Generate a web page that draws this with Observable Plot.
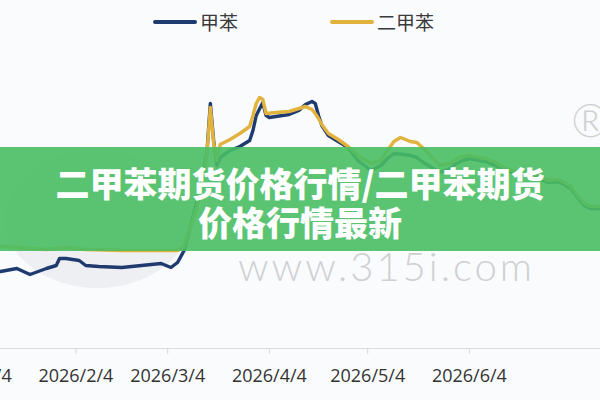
<!DOCTYPE html>
<html>
<head>
<meta charset="utf-8">
<script src="https://cdn.jsdelivr.net/npm/d3@7"></script>
<script src="https://cdn.jsdelivr.net/npm/@observablehq/plot@0.6"></script>
<style>
html,body{margin:0;padding:0;background:#fafbfc;width:600px;height:400px;overflow:hidden;font-family:"Noto Sans CJK SC","Noto Sans",sans-serif;}
#wrap{position:relative;width:600px;height:400px;overflow:hidden;}
#legend{position:relative;height:44px;z-index:2;}
.lg{position:absolute;top:8px;display:flex;align-items:center;font-size:19px;color:#3a3a3a;line-height:28px;}
.sw{width:44px;height:4px;border-radius:2px;margin-right:3px;}
#chart{position:relative;z-index:1;}
#chart svg{background:transparent !important;}
.wm{position:absolute;z-index:0;color:#cfd0d3;font-family:Lato,"Open Sans",sans-serif;font-weight:300;white-space:nowrap;}
#blob{position:absolute;z-index:0;left:5px;top:150px;width:185px;height:138px;border-radius:50%;background:#eeeff2;}
#banner{position:absolute;z-index:3;left:0;top:147px;width:600px;height:104px;box-sizing:border-box;padding-top:16px;background:rgba(72,190,100,0.9);color:#fff;font-weight:900;font-size:34px;line-height:39px;text-align:center;font-family:"Noto Sans CJK SC",sans-serif;}
</style>
</head>
<body>
<div id="wrap">
  <div id="blob"></div>
  <div class="wm" style="left:238px;top:252px;font-size:40px;line-height:28px;letter-spacing:3px;">www.315i.com</div>
  <div class="wm" style="left:571px;top:92px;font-size:46px;">®</div>
  <div id="legend"></div>
  <div id="chart"></div>
  <div id="banner">二甲苯期货价格行情/二甲苯期货<br>价格行情最新</div>
</div>
<script>
// Series names and colours
const seriesNames = ["甲苯", "二甲苯"];
const seriesColors = ["#1f3a6f", "#e1b23e"];

// 甲苯 (toluene)
const tolueneDates = ["2026-01-12","2026-01-17","2026-01-21","2026-01-26","2026-01-29","2026-01-30","2026-02-01","2026-02-05","2026-02-07","2026-02-11","2026-02-18","2026-02-24","2026-03-02","2026-03-05","2026-03-07","2026-03-09","2026-03-13","2026-03-15","2026-03-16","2026-03-17","2026-03-18","2026-03-19","2026-03-20","2026-03-23","2026-03-26","2026-03-29","2026-03-30","2026-03-31","2026-04-02","2026-04-03","2026-04-04","2026-04-06","2026-04-10","2026-04-13","2026-04-15","2026-04-17","2026-04-18","2026-04-19","2026-04-20","2026-04-22","2026-04-25","2026-04-28","2026-05-01","2026-05-05","2026-05-08","2026-05-10","2026-05-12","2026-05-15","2026-05-17","2026-05-19","2026-05-21","2026-05-24","2026-05-26","2026-05-29","2026-05-31","2026-06-02","2026-06-04","2026-06-07","2026-06-09","2026-06-12","2026-06-15","2026-06-18","2026-06-22","2026-06-25","2026-06-28","2026-07-01","2026-07-03","2026-07-05","2026-07-07","2026-07-09","2026-07-11","2026-07-14"];
const tolueneValues = [6290,6320,6260,6320,6350,6420,6420,6400,6350,6340,6330,6350,6370,6330,6380,6500,7000,7300,7500,7970,7600,7350,7430,7500,7540,7600,7700,7850,7980,7850,7830,7840,7860,7900,7960,7990,7970,7850,7750,7650,7590,7530,7400,7300,7350,7420,7470,7460,7450,7430,7380,7320,7280,7320,7370,7400,7420,7400,7390,7350,7300,7270,7280,7220,7180,7190,7160,7120,7030,6950,6920,6920];

// 二甲苯 (xylene)
const xyleneDates = ["2026-01-12","2026-01-17","2026-01-21","2026-01-26","2026-02-01","2026-02-07","2026-02-18","2026-03-02","2026-03-07","2026-03-09","2026-03-13","2026-03-15","2026-03-16","2026-03-17","2026-03-18","2026-03-19","2026-03-20","2026-03-23","2026-03-26","2026-03-29","2026-03-30","2026-03-31","2026-04-01","2026-04-02","2026-04-03","2026-04-06","2026-04-10","2026-04-13","2026-04-15","2026-04-17","2026-04-18","2026-04-19","2026-04-20","2026-04-22","2026-04-25","2026-04-28","2026-05-01","2026-05-05","2026-05-08","2026-05-10","2026-05-12","2026-05-14","2026-05-17","2026-05-19","2026-05-21","2026-05-24","2026-05-26","2026-05-29","2026-05-31","2026-06-02","2026-06-04","2026-06-07","2026-06-09","2026-06-12","2026-06-15","2026-06-18","2026-06-22","2026-06-25","2026-06-28","2026-07-01","2026-07-03","2026-07-05","2026-07-07","2026-07-09","2026-07-11","2026-07-14"];
const xyleneValues = [6540,6530,6520,6510,6530,6510,6500,6500,6500,6540,6950,7250,7480,7930,7580,7400,7560,7610,7670,7740,7850,7970,8030,8010,7870,7880,7890,7920,7940,7910,7870,7820,7760,7670,7610,7540,7450,7370,7400,7500,7590,7630,7590,7580,7520,7420,7350,7370,7420,7440,7450,7430,7420,7380,7320,7290,7300,7250,7200,7210,7180,7140,7050,6970,6940,6940];

// Axis
const tickDates = ["2026-01-04","2026-02-04","2026-03-04","2026-04-04","2026-05-04","2026-06-04"];
const xDomain = ["2026-01-12","2026-07-14"];
const yDomain = [5520, 8560];

const parse = d3.utcParse("%Y-%m-%d");
const toluene = tolueneDates.map((d, i) => ({date: parse(d), value: tolueneValues[i], series: seriesNames[0]}));
const xylene = xyleneDates.map((d, i) => ({date: parse(d), value: xyleneValues[i], series: seriesNames[1]}));
const fmt = d => `${d.getUTCFullYear()}/${d.getUTCMonth() + 1}/${d.getUTCDate()}`;

// Legend (HTML, above the chart)
const legendPos = [153, 330];
const legend = document.getElementById("legend");
seriesNames.forEach((name, i) => {
  const item = document.createElement("div");
  item.className = "lg";
  item.style.left = legendPos[i] + "px";
  item.innerHTML = `<span class="sw" style="background:${seriesColors[i]}"></span><span>${name}</span>`;
  legend.appendChild(item);
});

const chart = Plot.plot({
  width: 600,
  height: 356,
  marginLeft: 0,
  marginRight: 0,
  marginTop: 0,
  marginBottom: 52,
  style: {background: "transparent", fontFamily: "'Open Sans', sans-serif", overflow: "visible"},
  x: {type: "utc", domain: xDomain.map(parse)},
  y: {domain: yDomain, axis: null},
  marks: [
    Plot.ruleY([yDomain[0]], {stroke: "#dcdde0", strokeWidth: 1}),
    Plot.axisX(tickDates.map(parse), {
      tickFormat: fmt, tickSize: 6, tickPadding: 15, fontSize: 18,
      stroke: "#d5d6d9", fill: "#333", label: null
    }),
    Plot.line(toluene, {x: "date", y: "value", stroke: seriesColors[0], strokeWidth: 3.4, strokeLinejoin: "round"}),
    Plot.line(xylene, {x: "date", y: "value", stroke: seriesColors[1], strokeWidth: 3.4, strokeLinejoin: "round"})
  ]
});
document.getElementById("chart").appendChild(chart);
</script>
</body>
</html>
